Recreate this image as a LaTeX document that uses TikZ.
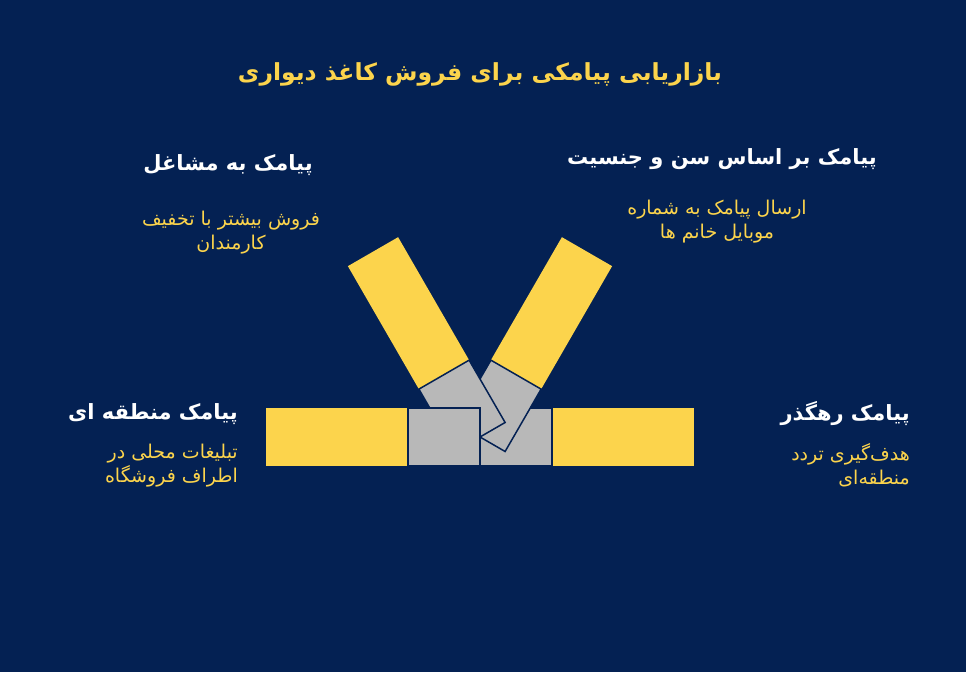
\documentclass[tikz,border=0pt]{standalone}
\usepackage{fontspec}
\TeXXeTstate=1
\newfontfamily\farsi[Script=Arabic]{DejaVu Sans}
\usepackage{xcolor}
\definecolor{navy}{RGB}{4,33,83}
\definecolor{sun}{RGB}{252,212,76}
\definecolor{joint}{RGB}{184,184,184}
\tikzset{
  barfill/.style={fill=sun},
  piece/.style={fill=joint, draw=navy, line width=1.5pt},
  heading/.style={text=white, font=\farsi\bfseries\fontsize{21}{26}\selectfont, inner sep=0pt},
  blurb/.style={text=sun, font=\farsi\fontsize{19}{24}\selectfont, inner sep=0pt},
}
\begin{document}
\begin{tikzpicture}[x=1pt,y=1pt]
\fill[navy] (0,0) rectangle (966,672);
\node[text=sun, font=\farsi\bfseries\fontsize{23.5}{28}\selectfont, inner sep=0pt] (title) at (480,598) {\beginR بازاریابی پیامکی برای فروش کاغذ دیواری\endR};

\begin{scope}[shift={(480,235)}]
    \fill[barfill] (72,-29) rectangle (214,29);
    \fill[barfill, rotate=60] (72,-29) rectangle (214,29);
    \fill[barfill, rotate=120] (72,-29) rectangle (214,29);
    \fill[barfill, rotate=180] (72,-29) rectangle (214,29);
    \filldraw[piece] (0,-29) rectangle (72,29);
    \filldraw[piece, rotate=60] (0,-29) rectangle (72,29);
    \filldraw[piece, rotate=120] (0,-29) rectangle (72,29);
    \filldraw[piece, rotate=180] (0,-29) rectangle (72,29);
\end{scope}

% labels round the bars
\node[heading] (mashaghel) at (228,507) {\beginR پیامک به مشاغل\endR};
\node[blurb, align=center] (mashagheltxt) at (231,439) {\beginR فروش بیشتر با تخفیف\endR\\\beginR کارمندان\endR};
\node[heading] (jensiat) at (722,513) {\beginR پیامک بر اساس سن و جنسیت\endR};
\node[blurb, align=center] (jensiattxt) at (717,450) {\beginR ارسال پیامک به شماره\endR\\\beginR موبایل خانم ها\endR};
\node[heading, anchor=east] (mantaghe) at (238,258) {\beginR پیامک منطقه ای\endR};
\node[blurb, align=right, anchor=east] (mantaghetxt) at (238,206) {\beginR تبلیغات محلی در\endR\\\beginR اطراف فروشگاه\endR};
\node[heading, anchor=east] (rahgozar) at (910,258) {\beginR پیامک رهگذر\endR};
\node[blurb, align=right, anchor=east] (rahgozartxt) at (910,207) {\beginR هدف‌گیری تردد\endR\\\beginR منطقه‌ای\endR};
\end{tikzpicture}
\end{document}
